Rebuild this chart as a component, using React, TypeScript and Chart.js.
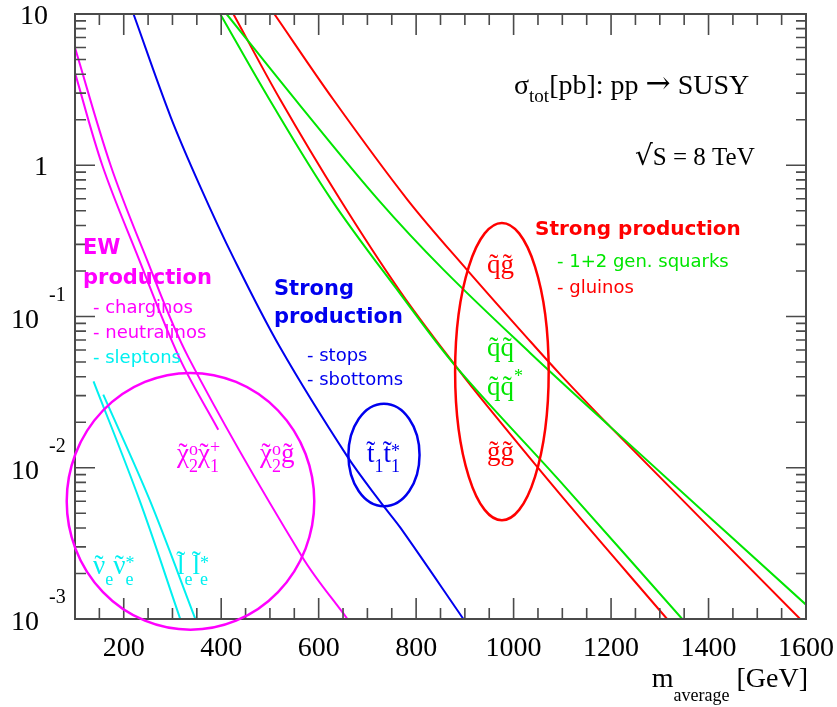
import React, { useEffect, useRef } from 'react';
import { Chart, registerables } from 'chart.js';

Chart.register(...registerables);

// ---------------- data ----------------
// EW production (magenta): chi2^0 chi1^+ and chi2^0 gluino
const chiChiMass = [100, 156, 226, 314, 394];
const chiChiXsec = [4.08, 1.0, 0.2634, 0.0535, 0.01786];
const chiGluinoMass = [100, 173, 242, 333, 566, 659];
const chiGluinoXsec = [5.98, 1.0, 0.2634, 0.0535, 0.00258, 0.001];
// sleptons (cyan)
const sneutrinoMass = [138, 232, 316];
const sneutrinoXsec = [0.0373, 0.00615, 0.001];
const selectronMass = [158, 253, 347];
const selectronXsec = [0.0304, 0.00615, 0.001];
// stops (blue)
const stopMass = [220, 296, 357, 425, 521, 659, 731, 768, 897];
const stopXsec = [10, 2.1, 0.723, 0.245, 0.0623, 0.01184, 0.0057, 0.004, 0.001];
// strong production
const gluinoPairMass = [425, 521, 644, 767, 884, 952, 1096, 1315];
const gluinoPairXsec = [10, 2.72, 0.593, 0.1468, 0.0457, 0.0242, 0.00664, 0.001];
const sqAntisqMass = [398, 499, 626, 767, 884, 1096, 1346];
const sqAntisqXsec = [10, 2.72, 0.593, 0.1417, 0.0457, 0.00809, 0.001];
const sqGluinoMass = [509, 630, 782, 904, 1034, 1096, 1198, 1588];
const sqGluinoXsec = [10, 2.72, 0.593, 0.2042, 0.0686, 0.0413, 0.0187, 0.001];
const sqSqMass = [411, 562, 722, 856, 1034, 1198, 1600];
const sqSqXsec = [10, 2.482, 0.593, 0.2042, 0.0574, 0.0187, 0.001243];

// axis ticks
const xMajorTicks = [200, 400, 600, 800, 1000, 1200, 1400, 1600];
const xTickLabels = ['200', '400', '600', '800', '1000', '1200', '1400', '1600'];
const yMajorTicks = [0.001, 0.01, 0.1, 1, 10];
const yTickBases = ['10', '10', '10', '1', '10'];
const yTickExponents = ['-3', '-2', '-1', '', ''];

// grouping ellipses (centre in data units, half-width in GeV, half-height in decades)
const ellipseMass = [337, 734, 976];
const ellipseXsec = [0.006, 0.01215, 0.0432];
const ellipseHalfWidth = [254, 73, 96];
const ellipseHalfDecades = [0.849, 0.339, 0.983];

const MAGENTA = '#ff00ff';
const CYAN = '#00f0f0';
const BLUE = '#0000ee';
const RED = '#ff0000';
const GREEN = '#00e600';
const AXIS = '#4a4a4a';
const ellipseColors = [MAGENTA, BLUE, RED];
const SERIF = "'Liberation Serif', 'DejaVu Serif', serif";
const SANS = "'DejaVu Sans', sans-serif";

type Part = {
  t: string;
  s?: number;
  dy?: number;
  stack?: boolean;
  bold?: boolean;
  tilde?: number; // extra vertical offset of a tilde accent (px); undefined = no tilde
  family?: string;
};

function drawRich(
  ctx: CanvasRenderingContext2D,
  x: number,
  y: number,
  parts: Part[],
  color: string,
  family: string,
  baseSize: number,
  align: 'left' | 'right' | 'center' = 'left'
) {
  const fontOf = (p: Part) => `${p.bold ? 'bold ' : ''}${p.s ?? baseSize}px ${p.family ?? family}`;
  const widths = parts.map((p) => {
    ctx.font = fontOf(p);
    return ctx.measureText(p.t).width;
  });
  let total = 0;
  let sw = 0;
  parts.forEach((p, i) => {
    if (p.stack) sw = Math.max(sw, widths[i]);
    else {
      total += Math.max(sw, widths[i]);
      sw = 0;
    }
  });
  total += sw;
  let cx = align === 'left' ? x : align === 'right' ? x - total : x - total / 2;
  sw = 0;
  ctx.fillStyle = color;
  ctx.textBaseline = 'alphabetic';
  parts.forEach((p, i) => {
    ctx.font = fontOf(p);
    ctx.textAlign = 'left';
    ctx.fillText(p.t, cx, y + (p.dy ?? 0));
    if (p.tilde !== undefined) {
      ctx.textAlign = 'center';
      ctx.fillText('\u02DC', cx + widths[i] / 2, y + (p.dy ?? 0) + p.tilde);
      ctx.textAlign = 'left';
    }
    if (p.stack) sw = Math.max(sw, widths[i]);
    else {
      cx += Math.max(sw, widths[i]);
      sw = 0;
    }
  });
}

const overlayPlugin = {
  id: 'overlay',
  afterDraw(chart: any) {
    const ctx: CanvasRenderingContext2D = chart.ctx;
    const xs = chart.scales.x;
    const ys = chart.scales.y;
    const { left, right, top, bottom } = chart.chartArea;
    ctx.save();

    // frame
    ctx.strokeStyle = AXIS;
    ctx.lineWidth = 2;
    ctx.strokeRect(left, top, right - left, bottom - top);

    // x ticks (inward, top and bottom)
    ctx.lineWidth = 1.6;
    ctx.beginPath();
    for (let v = 150; v < 1600; v += 50) {
      const px = xs.getPixelForValue(v);
      const len = xMajorTicks.includes(v) ? 21 : 11;
      ctx.moveTo(px, bottom);
      ctx.lineTo(px, bottom - len);
      ctx.moveTo(px, top);
      ctx.lineTo(px, top + len);
    }
    // y ticks (inward, left and right)
    for (let e = -3; e <= 0; e++) {
      for (let k = 1; k <= 9; k++) {
        const v = k * Math.pow(10, e);
        const py = ys.getPixelForValue(v);
        ctx.moveTo(left, py);
        ctx.lineTo(left + (k === 1 ? 20 : 11), py);
        ctx.moveTo(right, py);
        ctx.lineTo(right - (k === 1 ? 20 : 10), py);
      }
    }
    ctx.stroke();

    // x tick labels
    ctx.fillStyle = '#000';
    ctx.font = `28px ${SERIF}`;
    ctx.textAlign = 'center';
    ctx.textBaseline = 'alphabetic';
    xMajorTicks.forEach((v, i) => {
      ctx.fillText(xTickLabels[i], xs.getPixelForValue(v), 656);
    });
    // y tick labels
    yMajorTicks.forEach((v, i) => {
      const py = ys.getPixelForValue(v);
      ctx.font = `28px ${SERIF}`;
      ctx.textAlign = 'right';
      if (yTickExponents[i]) {
        ctx.fillText(yTickBases[i], 39, py + 11);
        ctx.font = `20px ${SERIF}`;
        ctx.textAlign = 'left';
        ctx.fillText(yTickExponents[i], 49, py - 16);
      } else {
        ctx.fillText(yTickBases[i], 48, py + 9.5);
      }
    });

    // axis title
    drawRich(ctx, 808, 687, [{ t: 'm' }, { t: 'average', s: 18, dy: 14 }, { t: ' [GeV]' }], '#000', SERIF, 28, 'right');

    // ellipses
    ctx.lineWidth = 2.5;
    ellipseMass.forEach((m, i) => {
      const cx = xs.getPixelForValue(m);
      const cy = ys.getPixelForValue(ellipseXsec[i]);
      const rx = xs.getPixelForValue(m + ellipseHalfWidth[i]) - cx;
      const ry = cy - ys.getPixelForValue(ellipseXsec[i] * Math.pow(10, ellipseHalfDecades[i]));
      ctx.strokeStyle = ellipseColors[i];
      ctx.beginPath();
      ctx.ellipse(cx, cy, rx, ry, 0, 0, Math.PI * 2);
      ctx.stroke();
    });

    // title texts
    drawRich(
      ctx, 514, 94,
      [{ t: 'σ' }, { t: 'tot', s: 19, dy: 7.5 }, { t: '[pb]: pp ' }, { t: '\u2192', s: 30, family: "'DejaVu Serif', serif", dy: -1 }, { t: ' SUSY' }],
      '#000', SERIF, 28
    );
    drawRich(ctx, 635, 165, [{ t: '\u221A', s: 28, family: "'DejaVu Serif', serif" }, { t: 'S = 8 TeV' }], '#000', SERIF, 25);

    // sans legend texts
    const sans = (t: string, x: number, y: number, c: string, size: number, bold = false) => {
      ctx.font = `${bold ? 'bold ' : ''}${size}px ${SANS}`;
      ctx.fillStyle = c;
      ctx.textAlign = 'left';
      ctx.textBaseline = 'alphabetic';
      ctx.fillText(t, x, y);
    };
    sans('EW', 83, 254, MAGENTA, 21, true);
    sans('production', 83, 284, MAGENTA, 21, true);
    sans('- charginos', 93, 313, MAGENTA, 18);
    sans('- neutralinos', 93, 338, MAGENTA, 18);
    sans('- sleptons', 93, 363, CYAN, 18);
    sans('Strong', 274, 295, BLUE, 21, true);
    sans('production', 274, 323, BLUE, 21, true);
    sans('- stops', 307, 361, BLUE, 18);
    sans('- sbottoms', 307, 385, BLUE, 18);
    sans('Strong production', 535, 235, RED, 20, true);
    sans('- 1+2 gen. squarks', 557, 267, GREEN, 18);
    sans('- gluinos', 557, 293, RED, 18);

    // particle labels (tilde drawn as an accent over each sparticle glyph)
    const tl = 0; // x-height glyphs
    const tT = -2; // t
    const tL = -4; // l
    drawRich(ctx, 487, 273, [{ t: 'q', tilde: tl }, { t: 'g', tilde: tl }], RED, SERIF, 27);
    drawRich(ctx, 487, 356, [{ t: 'q', tilde: tl }, { t: 'q', tilde: tl }], GREEN, SERIF, 27);
    drawRich(ctx, 487, 395, [{ t: 'q', tilde: tl }, { t: 'q', tilde: tl }, { t: '*', s: 18, dy: -13 }], GREEN, SERIF, 27);
    drawRich(ctx, 487, 460, [{ t: 'g', tilde: tl }, { t: 'g', tilde: tl }], RED, SERIF, 27);
    drawRich(
      ctx, 367, 462,
      [{ t: 't', tilde: tT }, { t: '1', s: 18, dy: 10 }, { t: 't', tilde: tT }, { t: '1', s: 18, dy: 10, stack: true }, { t: '*', s: 18, dy: -5 }],
      BLUE, SERIF, 27
    );
    drawRich(
      ctx, 177, 462,
      [{ t: 'χ', tilde: tl }, { t: 'o', s: 18, dy: -7, stack: true }, { t: '2', s: 18, dy: 10 }, { t: 'χ', tilde: tl }, { t: '+', s: 18, dy: -9, stack: true }, { t: '1', s: 18, dy: 10 }],
      MAGENTA, SERIF, 27
    );
    drawRich(
      ctx, 260, 462,
      [{ t: 'χ', tilde: tl }, { t: 'o', s: 18, dy: -7, stack: true }, { t: '2', s: 18, dy: 10 }, { t: 'g', tilde: tl }],
      MAGENTA, SERIF, 27
    );
    drawRich(
      ctx, 93, 574,
      [{ t: 'ν', tilde: tl }, { t: 'e', s: 18, dy: 11 }, { t: 'ν', tilde: tl }, { t: 'e', s: 18, dy: 11, stack: true }, { t: '*', s: 18, dy: -5 }],
      CYAN, SERIF, 27
    );
    drawRich(
      ctx, 177, 574,
      [{ t: 'l', tilde: tL }, { t: 'e', s: 18, dy: 11 }, { t: 'l', tilde: tL }, { t: 'e', s: 18, dy: 11, stack: true }, { t: '*', s: 18, dy: -5 }],
      CYAN, SERIF, 27
    );

    ctx.restore();
  },
};

function series(mass: number[], xsec: number[], color: string) {
  return {
    data: mass.map((m, i) => ({ x: m, y: xsec[i] })),
    borderColor: color,
    backgroundColor: color,
    borderWidth: 2,
    pointRadius: 0,
    fill: false,
    tension: 0.35,
  };
}

export default function App() {
  const ref = useRef<HTMLCanvasElement | null>(null);
  useEffect(() => {
    if (!ref.current) return;
    const chart = new Chart(ref.current, {
      type: 'line',
      data: {
        datasets: [
          series(chiChiMass, chiChiXsec, MAGENTA),
          series(chiGluinoMass, chiGluinoXsec, MAGENTA),
          series(sneutrinoMass, sneutrinoXsec, CYAN),
          series(selectronMass, selectronXsec, CYAN),
          series(stopMass, stopXsec, BLUE),
          series(sqSqMass, sqSqXsec, GREEN),
          series(sqAntisqMass, sqAntisqXsec, GREEN),
          series(gluinoPairMass, gluinoPairXsec, RED),
          series(sqGluinoMass, sqGluinoXsec, RED),
        ],
      },
      options: {
        responsive: false,
        animation: false,
        events: [],
        layout: { padding: { left: 75, right: 31, top: 14, bottom: 88 } },
        scales: {
          x: { type: 'linear', min: 100, max: 1600, display: false },
          y: { type: 'logarithmic', min: 0.001, max: 10, display: false },
        },
        plugins: { legend: { display: false }, tooltip: { enabled: false } },
      },
      plugins: [overlayPlugin],
    });
    return () => chart.destroy();
  }, []);
  return (
    <div style={{ position: 'absolute', left: 0, top: 0, width: 837, height: 707, background: '#fff' }}>
      <canvas ref={ref} width={837} height={707} style={{ width: 837, height: 707, display: 'block' }} />
    </div>
  );
}
